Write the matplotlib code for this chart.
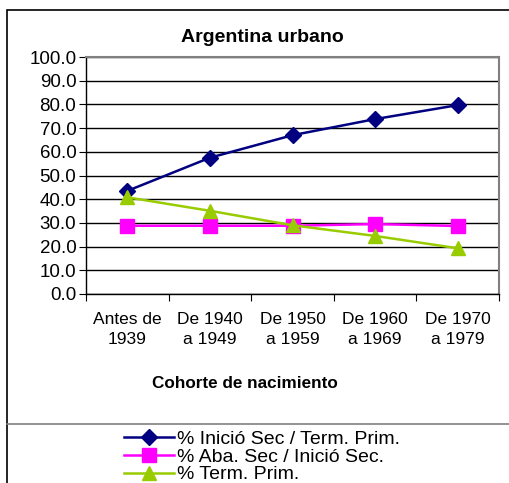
import matplotlib
matplotlib.use("Agg")
import matplotlib.pyplot as plt
from matplotlib.lines import Line2D
from matplotlib.patches import Rectangle

plt.rcParams['font.family'] = ['Liberation Sans', 'DejaVu Sans']

# datos
cohortes = ["Antes de\n1939", "De 1940\na 1949", "De 1950\na 1959", "De 1960\na 1969", "De 1970\na 1979"]
inicio_sec = [43.5, 57.5, 67.0, 73.8, 79.7]
aba_sec = [28.8, 28.8, 28.8, 29.5, 28.7]
term_prim = [40.8, 35.1, 29.0, 24.5, 19.3]

series = [
    ("% Inició Sec / Term. Prim.", inicio_sec, "#000080", "D", 8),
    ("% Aba. Sec / Inició Sec.", aba_sec, "#FF00FF", "s", 10),
    ("% Term. Prim.", term_prim, "#99CC00", "^", 10),
]

W, H = 510, 483
fig = plt.figure(figsize=(W / 100, H / 100), dpi=100)

# marco exterior y separador de la leyenda
fig.add_artist(Rectangle((7 / W, -0.01), 1.1, 1 - 10 / H + 0.01, transform=fig.transFigure,
                         fill=False, edgecolor="black", linewidth=1.2))
fig.add_artist(Line2D([7 / W, 1], [1 - 424 / H, 1 - 424 / H], transform=fig.transFigure,
                      color="#808080", linewidth=1.2))

ax = fig.add_axes([86 / W, 1 - 294 / H, (499 - 86) / W, (294 - 57) / H])
x = list(range(len(cohortes)))
for label, vals, color, marker, ms in series:
    ax.plot(x, vals, color=color, marker=marker, markersize=ms, linewidth=1.8,
            markeredgecolor=color, label=label, clip_on=False, zorder=3)

ax.set_xlim(-0.5, len(cohortes) - 0.5)
ax.set_ylim(0, 100)
ax.set_yticks(range(0, 101, 10))
ax.set_yticklabels([f"{v:.1f}" for v in range(0, 101, 10)], fontsize=13.5)
ax.set_xticks([i + 0.5 for i in range(-1, len(cohortes))])
ax.set_xticklabels([])
ax.set_xticks(x, minor=True)
ax.set_xticklabels(cohortes, minor=True, fontsize=12.5, linespacing=1.45)
ax.tick_params(axis="x", which="minor", length=0, pad=13)
ax.tick_params(axis="x", which="major", length=5, direction="out")
ax.tick_params(axis="y", length=5, direction="out", pad=2)
ax.yaxis.grid(True, color="black", linewidth=1)
ax.set_axisbelow(True)
for side in ("top", "right"):
    ax.spines[side].set_color("#808080")
    ax.spines[side].set_linewidth(1.5)
ax.spines["left"].set_linewidth(1)
ax.spines["bottom"].set_linewidth(1)

fig.text(262 / W, 1 - 38 / H, "Argentina urbano", ha="center", va="center",
         fontsize=14, fontweight="bold")
fig.text(245 / W, 1 - 383 / H, "Cohorte de nacimiento", ha="center", va="center",
         fontsize=12.3, fontweight="bold")

handles, labels = ax.get_legend_handles_labels()
fig.legend(handles, labels, loc="center", bbox_to_anchor=(262 / W, 1 - 457 / H),
           frameon=False, fontsize=14, handlelength=2.6, handletextpad=0.15,
           labelspacing=0.0, borderpad=0)

fig.savefig("out.png", dpi=100)
